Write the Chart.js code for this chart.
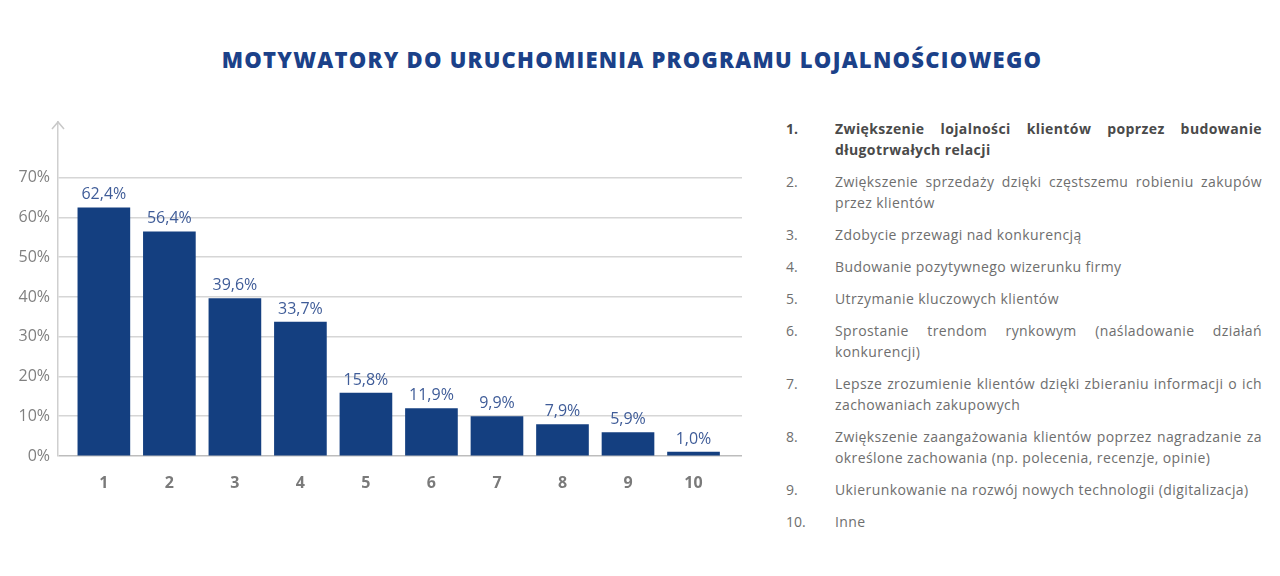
<!DOCTYPE html>
<html>
<head>
<meta charset="utf-8">
<script src="https://cdn.jsdelivr.net/npm/chart.js@4.4.1/dist/chart.umd.min.js"></script>
<style>
html, body { margin:0; padding:0; background:#fff; }
body { width:1280px; height:576px; position:relative; overflow:hidden; font-family:"Open Sans", sans-serif; }
#title { position:absolute; top:44px; left:0; width:1264px; text-align:center; margin:0;
  font-family:"Open Sans", sans-serif; font-weight:800; font-size:22px; color:#1b4189; letter-spacing:1.25px; }
#wrap { position:absolute; left:0; top:0; width:760px; height:576px; }
#legend { position:absolute; left:786px; top:118px; width:476px; font-size:14px; letter-spacing:0.4px; color:#6e6e6e; }
.item { display:flex; margin-bottom:11px; line-height:21px; }
.item .num { width:49px; flex:none; letter-spacing:0; }
.item .txt { width:427px; white-space:nowrap; }
.item .txt .full { text-align:justify; text-align-last:justify; }
.item.first { color:#4a4a4a; font-weight:700; }
</style>
</head>
<body>
<h1 id="title">MOTYWATORY DO URUCHOMIENIA PROGRAMU LOJALNOŚCIOWEGO</h1>
<div id="wrap"><canvas id="chart" width="760" height="576"></canvas></div>
<div id="legend"></div>
<script>
// --- Data ---
const categories = ['1','2','3','4','5','6','7','8','9','10'];
const values = [62.4, 56.4, 39.6, 33.7, 15.8, 11.9, 9.9, 7.9, 5.9, 1.0];
const yTicks = [0, 10, 20, 30, 40, 50, 60, 70];
const descriptions = [
  ['Zwiększenie lojalności klientów poprzez budowanie', 'długotrwałych relacji'],
  ['Zwiększenie sprzedaży dzięki częstszemu robieniu zakupów', 'przez klientów'],
  ['Zdobycie przewagi nad konkurencją'],
  ['Budowanie pozytywnego wizerunku firmy'],
  ['Utrzymanie kluczowych klientów'],
  ['Sprostanie trendom rynkowym (naśladowanie działań', 'konkurencji)'],
  ['Lepsze zrozumienie klientów dzięki zbieraniu informacji o ich', 'zachowaniach zakupowych'],
  ['Zwiększenie zaangażowania klientów poprzez nagradzanie za', 'określone zachowania (np. polecenia, recenzje, opinie)'],
  ['Ukierunkowanie na rozwój nowych technologii (digitalizacja)'],
  ['Inne']
];

// --- Legend list ---
const legendEl = document.getElementById('legend');
descriptions.forEach((lines, i) => {
  const item = document.createElement('div');
  item.className = 'item' + (i === 0 ? ' first' : '');
  const num = document.createElement('div');
  num.className = 'num';
  num.textContent = categories[i] + '.';
  const txt = document.createElement('div');
  txt.className = 'txt';
  lines.forEach((line, j) => {
    const d = document.createElement('div');
    if (j < lines.length - 1) d.className = 'full';
    d.textContent = line;
    txt.appendChild(d);
  });
  item.appendChild(num); item.appendChild(txt);
  legendEl.appendChild(item);
});

const fmt = v => v.toFixed(1).replace('.', ',') + '%';

// value labels above bars
const valueLabels = {
  id: 'valueLabels',
  afterDatasetsDraw(chart){
    const ctx = chart.ctx;
    const meta = chart.getDatasetMeta(0);
    ctx.save();
    ctx.font = '16px "Open Sans", sans-serif';
    ctx.fillStyle = '#3f5c98';
    ctx.textAlign = 'center';
    ctx.textBaseline = 'bottom';
    meta.data.forEach((bar, i) => {
      ctx.fillText(fmt(values[i]), bar.x, bar.y - 5);
    });
    ctx.restore();
  }
};

// arrow head at top of y axis
const axisArrow = {
  id: 'axisArrow',
  afterDraw(chart){
    const {ctx, chartArea} = chart;
    const x = chartArea.left, y = chartArea.top;
    ctx.save();
    ctx.strokeStyle = '#c8c8c8';
    ctx.lineWidth = 1.5;
    ctx.beginPath();
    ctx.moveTo(x - 6, y + 7); ctx.lineTo(x, y); ctx.lineTo(x + 6, y + 7);
    ctx.stroke();
    ctx.restore();
  }
};

new Chart(document.getElementById('chart'), {
  type: 'bar',
  data: {
    datasets: [{
      data: values.map((v, i) => ({x: i + 1, y: v})),
      backgroundColor: '#143f80',
      barThickness: 52
    }]
  },
  plugins: [valueLabels, axisArrow],
  options: {
    responsive: false,
    animation: false,
    layout: { padding: { top: 122, right: 18, bottom: 76, left: 0 } },
    plugins: { legend: { display: false }, tooltip: { enabled: false } },
    scales: {
      x: {
        type: 'linear',
        offset: false,
        min: 0.3, max: 10.74,
        afterBuildTicks: s => { s.ticks = categories.map((c, i) => ({value: i + 1})); },
        afterFit: s => { s.height = 44; },
        grid: { display: false, offset: false },
        border: { display: false },
        ticks: {
          autoSkip: false,
          padding: 10,
          color: '#7a7a7a',
          font: { family: '"Open Sans", sans-serif', size: 16, weight: 'bold' },
          callback: (v, i) => categories[i]
        }
      },
      y: {
        min: 0, max: 84,
        afterBuildTicks: s => { s.ticks = yTicks.map(v => ({value: v})); },
        afterFit: s => { s.width = 58; },
        grid: {
          color: ctx => ctx.tick && ctx.tick.value === 0 ? '#bdbdbd' : '#d6d6d6',
          lineWidth: 1.5,
          drawTicks: false
        },
        border: { display: true, color: '#cfcfcf', width: 1.5 },
        ticks: {
          padding: 8,
          color: '#808080',
          font: { family: '"Open Sans", sans-serif', size: 16 },
          callback: v => v + '%'
        }
      }
    }
  }
});
</script>
</body>
</html>
